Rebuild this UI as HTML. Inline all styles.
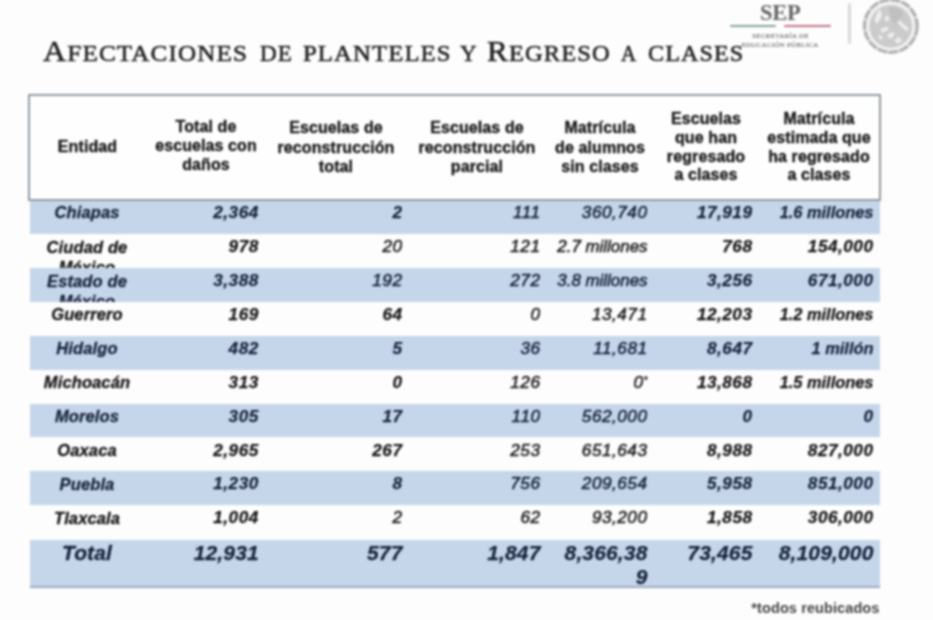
<!DOCTYPE html>
<html><head><meta charset="utf-8">
<style>
html,body{margin:0;padding:0;}
body{width:933px;height:620px;position:relative;overflow:hidden;background:#fdfdfd;font-family:"Liberation Sans",sans-serif;color:#1c1c1c;}
#wrap{position:absolute;left:0;top:0;width:933px;height:620px;filter:blur(0.9px);}
#title{position:absolute;left:41.5px;top:33.3px;height:40px;white-space:nowrap;font-family:"Liberation Serif",serif;color:#202020;font-size:23.5px;letter-spacing:1.08px;line-height:40px;-webkit-text-stroke:0.55px #202020;}
.w{position:absolute;top:0;transform-origin:0 50%;}
#title b{font-weight:normal;font-size:30px;letter-spacing:1.08px;line-height:0;}
#hdr{position:absolute;left:27.9px;top:94.1px;width:848.8px;height:103.4px;border:2.3px solid #929aa2;background:#fefefe;z-index:3;}
.h{z-index:4;position:absolute;text-align:center;font-weight:bold;font-size:16px;line-height:19.2px;color:#181818;-webkit-text-stroke:0.35px #181818;letter-spacing:0.1px;transform:translate(-50%,-50%);white-space:nowrap;}
.row{position:absolute;left:30px;width:850px;height:33.9px;overflow:hidden;font-style:italic;font-size:17.2px;line-height:25.4px;}
.row.b{background:#c6d6ea;}
.row div{position:absolute;top:0;white-space:nowrap;}
.row .n{left:-1px;width:116px;color:#141414;-webkit-text-stroke:0.3px #141414;letter-spacing:0.12px;text-align:center;font-weight:bold;font-size:16.5px;white-space:normal;line-height:20.3px;top:2.6px;}
.c{text-align:right;width:140px;letter-spacing:0.5px;}
.c2{left:88.8px}.c3{left:232.5px}.c4{left:370.5px}.c5{left:477.5px}.c6{left:582.5px}.c7{left:703.5px}
.bd{font-weight:bold;color:#141414;-webkit-text-stroke:0.25px #141414;}
.lt{color:#1c1c1c;-webkit-text-stroke:0.55px #1c1c1c;}
.m{font-size:16.4px;letter-spacing:0;}
.lt.m{font-size:16.9px;letter-spacing:0;}
.row.b .bd,.row.b .lt,.row.b .n{color:#15223a;-webkit-text-stroke-color:#15223a;}
#tot{height:45.8px;font-size:21px;line-height:26.6px;border-bottom:2px solid #9aabc2;}
#tot .n{font-size:21px;top:0px;line-height:26.6px;}
#tot .c{letter-spacing:0.15px;}
#sep{position:absolute;left:760px;top:-2.5px;font-family:"Liberation Serif",serif;font-weight:bold;font-size:22.5px;line-height:30px;color:#666;letter-spacing:-0.2px;transform-origin:0 0;transform:scaleX(1.0);}
#lg{position:absolute;left:730px;top:24.5px;width:46px;height:2px;background:#84a593;border-radius:1px;}
#lr{position:absolute;left:784px;top:24.5px;width:47px;height:2px;background:#c27488;border-radius:1px;}
.tiny{position:absolute;font-family:"Liberation Serif",serif;font-size:7px;line-height:8px;color:#777;text-align:center;white-space:nowrap;letter-spacing:0.25px;-webkit-text-stroke:0.2px #777;}
#vl{position:absolute;left:848px;top:2.5px;width:3px;height:41.5px;background:#d9d9d9;border-radius:1.5px;}
#foot{position:absolute;right:53.5px;top:598.8px;font-size:14.5px;line-height:18px;font-weight:bold;color:#454545;letter-spacing:0.1px;white-space:nowrap;}
</style></head><body><div id="wrap">
<div id="title"><span class="w" id="w0" style="left:1.30px;transform:scaleX(1.0684)"><b>A</b>FECTACIONES</span><span class="w" id="w1" style="left:218.00px;transform:scaleX(0.9824)">DE</span><span class="w" id="w2" style="left:261.00px;transform:scaleX(1.0500)">PLANTELES</span><span class="w" id="w3" style="left:418.90px;transform:scaleX(0.9783)">Y</span><span class="w" id="w4" style="left:445.50px;transform:scaleX(1.0398)"><b>R</b>EGRESO</span><span class="w" id="w5" style="left:579.40px;transform:scaleX(0.8939)">A</span><span class="w" id="w6" style="left:606.00px;transform:scaleX(1.0232)">CLASES</span></div>


<div id="sep">SEP</div>
<div id="lg"></div><div id="lr"></div>
<div class="tiny" style="left:752px;top:31.9px;width:57px">SECRETARÍA DE</div>
<div class="tiny" style="left:741px;top:40.9px;width:78px">EDUCACIÓN PÚBLICA</div>
<div id="vl"></div>
<svg id="seal" width="70" height="62" viewBox="0 0 70 62" style="position:absolute;left:856px;top:-5px">
<defs><filter id="bl" x="-20%" y="-20%" width="140%" height="140%"><feGaussianBlur stdDeviation="0.7"/></filter></defs>
<g filter="url(#bl)">
<circle cx="34.8" cy="31" r="26.4" fill="#f0f0f0" stroke="#b0b0b0" stroke-width="3.2" stroke-dasharray="10 1.2"/>
<circle cx="34.8" cy="31.3" r="21.3" fill="#cbcbcb"/>
<path d="M33 12 q9 -1 15 6 q-5 5 -6 13 q-9 -5 -9 -19z" fill="#c0c0c0"/>
<path d="M22.5 14.5 l3.5 3 l-1 6 l-4.5 5.5 l-2 -4 z M28.5 22 l3.5 -1.5 l1.5 4.5 l-4 1.5 z M40.5 27 l3 -1.5 l9.5 8 l-2.5 3 z M24 34 l7 -2.5 l2 3 l-7 3.5 z M31 40 l5 -3 l3 2.500 l-5 4.500 z M38 45 l5 -3 l3 3 l-4 4 z M22 41 l3 -1 l2 3 l-3 2z" fill="#ededed"/>
</g></svg>
<div id="hdr"></div>
<div class="h" style="left:87.5px;top:146.5px">Entidad</div>
<div class="h" style="left:206px;top:145.5px">Total de<br>escuelas con<br>daños</div>
<div class="h" style="left:336px;top:147.3px">Escuelas de<br>reconstrucción<br>total</div>
<div class="h" style="left:477px;top:147.3px">Escuelas de<br>reconstrucción<br>parcial</div>
<div class="h" style="left:600px;top:147.3px">Matrícula<br>de alumnos<br>sin clases</div>
<div class="h" style="left:706px;top:147px;line-height:18.75px">Escuelas<br>que han<br>regresado<br>a clases</div>
<div class="h" style="left:819px;top:147px;line-height:18.75px">Matrícula<br>estimada que<br>ha regresado<br>a clases</div>

<div class="row b" style="top:200.2px"><div class="n" style="top:1.6px">Chiapas</div><div class="c c2 bd">2,364</div><div class="c c3 bd">2</div><div class="c c4 lt">111</div><div class="c c5 lt">360,740</div><div class="c c6 bd">17,919</div><div class="c c7 bd m">1.6 millones</div></div>
<div class="row" style="top:234.1px"><div class="n">Ciudad de México</div><div class="c c2 bd">978</div><div class="c c3 lt">20</div><div class="c c4 lt">121</div><div class="c c5 lt m">2.7 millones</div><div class="c c6 bd">768</div><div class="c c7 bd">154,000</div></div>
<div class="row b" style="top:268.0px"><div class="n">Estado de México</div><div class="c c2 bd">3,388</div><div class="c c3 lt">192</div><div class="c c4 lt">272</div><div class="c c5 lt m">3.8 millones</div><div class="c c6 bd">3,256</div><div class="c c7 bd">671,000</div></div>
<div class="row" style="top:301.9px"><div class="n">Guerrero</div><div class="c c2 bd">169</div><div class="c c3 bd">64</div><div class="c c4 lt">0</div><div class="c c5 lt">13,471</div><div class="c c6 bd">12,203</div><div class="c c7 bd m">1.2 millones</div></div>
<div class="row b" style="top:335.8px"><div class="n">Hidalgo</div><div class="c c2 bd">482</div><div class="c c3 bd">5</div><div class="c c4 lt">36</div><div class="c c5 lt">11,681</div><div class="c c6 bd">8,647</div><div class="c c7 bd m">1 millón</div></div>
<div class="row" style="top:369.7px"><div class="n">Michoacán</div><div class="c c2 bd">313</div><div class="c c3 bd">0</div><div class="c c4 lt">126</div><div class="c c5 lt">0<span style="font-size:10px;position:relative;top:-4px;letter-spacing:0;-webkit-text-stroke:0.3px #1c1c1c">*</span></div><div class="c c6 bd">13,868</div><div class="c c7 bd m">1.5 millones</div></div>
<div class="row b" style="top:403.6px"><div class="n">Morelos</div><div class="c c2 bd">305</div><div class="c c3 bd">17</div><div class="c c4 lt">110</div><div class="c c5 lt">562,000</div><div class="c c6 bd">0</div><div class="c c7 bd">0</div></div>
<div class="row" style="top:437.5px"><div class="n">Oaxaca</div><div class="c c2 bd">2,965</div><div class="c c3 bd">267</div><div class="c c4 lt">253</div><div class="c c5 lt">651,643</div><div class="c c6 bd">8,988</div><div class="c c7 bd">827,000</div></div>
<div class="row b" style="top:471.4px"><div class="n">Puebla</div><div class="c c2 bd">1,230</div><div class="c c3 bd">8</div><div class="c c4 lt">756</div><div class="c c5 lt">209,654</div><div class="c c6 bd">5,958</div><div class="c c7 bd">851,000</div></div>
<div class="row" style="top:505.3px"><div class="n">Tlaxcala</div><div class="c c2 bd">1,004</div><div class="c c3 lt">2</div><div class="c c4 lt">62</div><div class="c c5 lt">93,200</div><div class="c c6 bd">1,858</div><div class="c c7 bd">306,000</div></div>
<div class="row b" id="tot" style="top:539.8px"><div class="n">Total</div><div class="c c2 bd">12,931</div><div class="c c3 bd">577</div><div class="c c4 bd">1,847</div><div class="c c5 bd" style="white-space:normal;line-height:24px;top:1.3px">8,366,38<br>9</div><div class="c c6 bd">73,465</div><div class="c c7 bd">8,109,000</div></div>

<div id="foot">*todos reubicados</div>
</div></body></html>
